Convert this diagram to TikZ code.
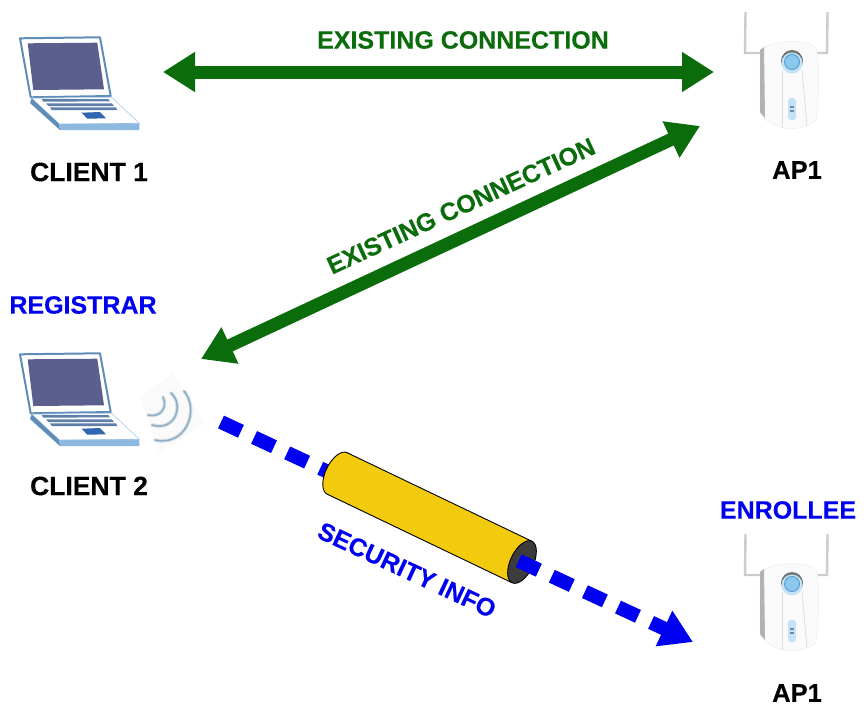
\documentclass[tikz,border=0pt]{standalone}
\usepackage{fontspec}
\setmainfont[BoldFeatures={FakeBold=0.25}]{Liberation Sans}
\usetikzlibrary{arrows.meta}
\definecolor{linkgreen}{HTML}{0A6C0A}
\definecolor{infoblue}{HTML}{0000F0}
\definecolor{tubeyellow}{HTML}{F2CB0E}
\definecolor{tubedark}{HTML}{3C3C3C}
\definecolor{lapframe}{HTML}{5F8DB8}
\definecolor{lapscreen}{HTML}{5A5F8E}
\definecolor{lapkey}{HTML}{5F7FAB}
\definecolor{lapfront}{HTML}{8DB8E0}
\definecolor{lappad}{HTML}{2F68B0}
\definecolor{wavegray}{HTML}{8FADC2}
\definecolor{wavepale}{HTML}{D5E0E8}
\definecolor{apbutton}{HTML}{8CC8EE}
\definecolor{apring}{HTML}{4F9AD2}
\definecolor{apglow}{HTML}{C4E2F4}
\definecolor{apdot}{HTML}{6C8CA8}
\tikzset{
    blacklabel/.style={font=\fontsize{26.5}{28}\selectfont\bfseries, text=black},
    shortlabel/.style={font=\fontsize{25.5}{28}\selectfont\bfseries, text=black},
    greenlabel/.style={font=\fontsize{25}{28}\selectfont\bfseries, text=linkgreen},
    bluelabel/.style={font=\fontsize{25}{28}\selectfont\bfseries, text=infoblue},
    greenlink/.style={line width=13pt, draw=linkgreen, {Triangle[length=32pt,width=38pt]}-{Triangle[length=32pt,width=38pt]}},
    bluelink/.style={line width=14pt, draw=infoblue, dash pattern=on 22pt off 14.5pt, -{Triangle[length=32pt,width=37pt]}},
    pics/laptopicon/.style={code={
        \filldraw[draw=lapframe, fill=white, line width=2pt, line join=round] (20,38.3) -- (100,37.3) -- (110.7,96) -- (30.7,97.3) -- cycle;
        \fill[lapscreen] (27.7,43.3) -- (97.3,42.7) -- (104,89.3) -- (33.3,90) -- cycle;
        \filldraw[draw=lapfront!60, fill=white, line width=0.8pt] (31.7,98.3) -- (111.7,97.3) -- (139.3,123.3) -- (59.3,124) -- cycle;
        \fill[lapframe] (31.7,98.3) -- (59.3,124) -- (60,130) -- (30,103) -- cycle;
        \fill[lapfront] (59.3,124) -- (139.3,123.3) -- (139.3,130) -- (60,130) -- cycle;
        \fill[lapkey] (41.7,99) -- (108.3,99) -- (110,101.3) -- (43.3,101.7) -- cycle;
        \fill[lapkey] (46,103.3) -- (111.7,103.3) -- (114,106) -- (48.3,106) -- cycle;
        \fill[lapkey] (50,107.3) -- (116,107.3) -- (117.3,110) -- (51.7,110) -- cycle;
        \fill[lappad] (81.7,112.7) -- (100,112) -- (106,118.3) -- (87.3,118.7) -- cycle;
    }},
    pics/apicon/.style={code={
        \draw[black!20, line width=2.4pt] (-46.5,-50) -- (-47,-9) -- (-30,-9);
        \draw[black!20, line width=2.4pt] (35.5,-50) -- (35,-9) -- (24,-9);
        \filldraw[draw=black!8, fill=black!2] (-32,-12) .. controls (-20,-22) and (15,-24) .. (24,-14) .. controls (28,-5) and (27,40) .. (24,58) .. controls (20,65) and (0,68) .. (-8,66) .. controls (-18,64) and (-28,58) .. (-32,50) -- cycle;
        \fill[black!30] (-32,-12) -- (-28,-15) -- (-27,56) -- (-32,50) -- cycle;
        \draw[black!13, line width=0.8pt] (-10,8) -- (-10,66);
        \draw[black!13, line width=0.8pt] (10,8) -- (15,64);
        \fill[black!55] (0,-1) circle (11);
        \fill[apglow] (0,1) circle (10.5);
        \filldraw[draw=apring, fill=apbutton, line width=0.9pt] (0,0) circle (7.5);
        \fill[apglow, rounded corners=3pt] (-4,36) rectangle (4,58);
        \fill[apdot] (-2,44) rectangle (2,46);
        \fill[apdot] (-2,48) rectangle (2,50);
    }},
}
\begin{document}
\begin{tikzpicture}[x=1pt, y=-1pt]
    \useasboundingbox[fill=white] (0,0) rectangle (868,715);

    % devices
    \pic (laptopA) at (0,0) {laptopicon};
    \pic (laptopB) at (0,316) {laptopicon};
    \pic (apA) at (792,62) {apicon};
    \pic (apB) at (792,584) {apicon};

    % signal icon next to client 2
    \fill[black!2] (173,373) -- (205,423) -- (160,453) -- (140,398) -- cycle;
    \foreach \wavecol/\wavewd in {wavepale/3.6, wavegray/1.5} {
        \draw[\wavecol, line width=\wavewd pt, line cap=round] (163,397) .. controls (168,408) and (160,418) .. (148,415);
        \draw[\wavecol, line width=\wavewd pt, line cap=round] (171,393) .. controls (184,404) and (176,432) .. (152,425);
        \draw[\wavecol, line width=\wavewd pt, line cap=round] (184,391) .. controls (200,410) and (186,447) .. (155,440);
    }

    % connection end points
    \coordinate (topL) at (163,72);
    \coordinate (topR) at (714,72);
    \coordinate (diagL) at (201,359);
    \coordinate (diagR) at (700,126);
    \coordinate (dashS) at (221,422);
    \coordinate (dashE) at (693,642);
    \coordinate (stubS) at (518.7,560.8);
    \coordinate (stubE) at (538.7,570.1);

    \draw[greenlink] (topL) -- (topR);
    \draw[greenlink] (diagL) -- (diagR);
    \draw[bluelink] (dashS) -- (dashE);

    % tube over the dashed line
    \begin{scope}[shift={(522,562)}, rotate=-25.6]
        \filldraw[fill=tubeyellow, draw=black, line width=0.9pt] (-205,0) ellipse [x radius=11.5pt, y radius=23pt];
        \fill[tubeyellow] (-205,-23) rectangle (0,23);
        \draw[black, line width=0.9pt] (-205,-23) -- (0,-23);
        \draw[black, line width=0.9pt] (-205,23) -- (0,23);
        \filldraw[fill=tubedark, draw=black, line width=0.9pt] (0,0) ellipse [x radius=11.5pt, y radius=23pt];
    \end{scope}
    \draw[infoblue, line width=14pt] (stubS) -- (stubE);

    % labels
    \node[blacklabel] (clientA) at (89,172) {CLIENT 1};
    \node[shortlabel] (apTop) at (797,170) {AP1};
    \node[blacklabel] (clientB) at (89,486) {CLIENT 2};
    \node[shortlabel] (apBottom) at (797,693) {AP1};
    \node[bluelabel] (registrar) at (83,305) {REGISTRAR};
    \node[bluelabel] (enrollee) at (788,510) {ENROLLEE};
    \node[greenlabel] (linkA) at (463,40) {EXISTING CONNECTION};
    \node[greenlabel, rotate=24.7] (linkB) at (461,206) {EXISTING CONNECTION};
    \node[bluelabel, rotate=-25] (secinfo) at (407,570) {SECURITY INFO};
\end{tikzpicture}
\end{document}
